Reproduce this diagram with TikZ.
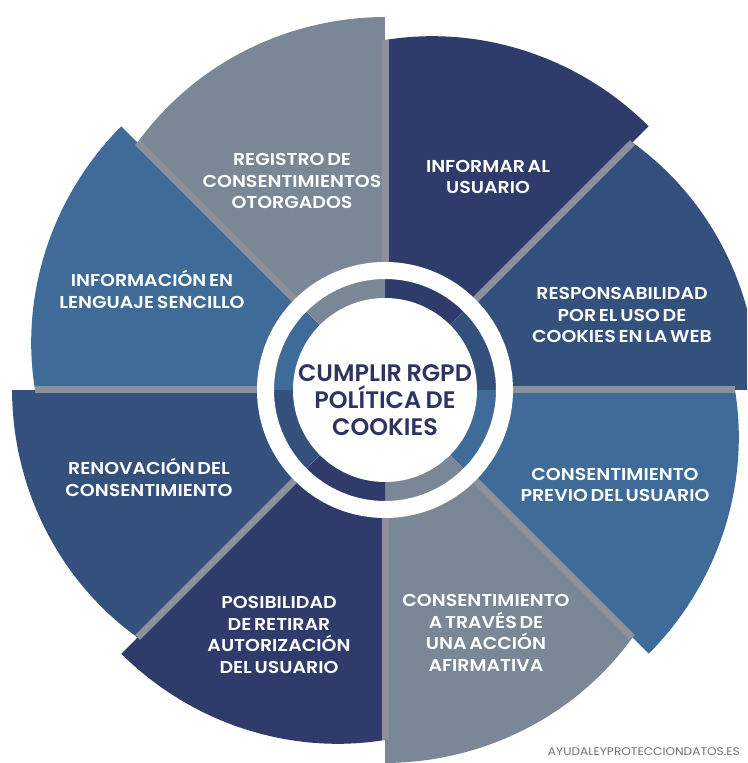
\documentclass[tikz,border=0pt]{standalone}
\usepackage{fontspec}
\setmainfont{Poppins}[BoldFont={Poppins SemiBold}, FakeStretch=1.1, WordSpace=0.6]
\newfontfamily\corefont{Poppins}[BoldFont={Poppins SemiBold}, WordSpace=0.8]
\definecolor{navyseg}{HTML}{2F3C6B}
\definecolor{steelseg}{HTML}{34517D}
\definecolor{blueseg}{HTML}{3F6B99}
\definecolor{grayseg}{HTML}{7A8797}
\definecolor{sepline}{HTML}{8E9199}
\definecolor{coretext}{HTML}{2D3461}
\definecolor{webtext}{HTML}{707070}
\begin{document}
\begin{tikzpicture}[x=0.02cm, y=0.02cm,
  seglabel/.style={text=white, align=center, font=\bfseries\fontsize{9.8}{12.4}\selectfont},
  corelabel/.style={text=coretext, align=center, font=\corefont\bfseries\fontsize{13.6}{15.4}\selectfont},
  sepray/.style={draw=sepline, line width=0.14cm},
  weblabel/.style={text=webtext, anchor=east, font=\fontsize{6.3}{7}\selectfont}]
% Frame of the picture, centre of the wheel at (0,0)
\useasboundingbox (-385,-373) rectangle (362,390);
\clip (-385,-373) rectangle (362,390);

% Eight blades, each grows from r=350 to r=373 going clockwise
\fill[navyseg] (0,0) -- plot[domain=0:1, samples=40] ({90-45*\x}:{350+45*\x-22*\x*\x}) -- cycle;
\fill[steelseg] (0,0) -- plot[domain=0:1, samples=40] ({45-45*\x}:{350+45*\x-22*\x*\x}) -- cycle;
\fill[blueseg] (0,0) -- plot[domain=0:1, samples=40] ({360-45*\x}:{350+45*\x-22*\x*\x}) -- cycle;
\fill[grayseg] (0,0) -- plot[domain=0:1, samples=40] ({315-45*\x}:{350+45*\x-22*\x*\x}) -- cycle;
\fill[navyseg] (0,0) -- plot[domain=0:1, samples=40] ({270-45*\x}:{350+45*\x-22*\x*\x}) -- cycle;
\fill[steelseg] (0,0) -- plot[domain=0:1, samples=40] ({225-45*\x}:{350+45*\x-22*\x*\x}) -- cycle;
\fill[blueseg] (0,0) -- plot[domain=0:1, samples=40] ({180-45*\x}:{350+45*\x-22*\x*\x}) -- cycle;
\fill[grayseg] (0,0) -- plot[domain=0:1, samples=40] ({135-45*\x}:{350+45*\x-22*\x*\x}) -- cycle;

% Separators between the blades
\draw[sepray] (90:128) -- (90:350);
\draw[sepray] (45:128) -- (45:350);
\draw[sepray] (0:128) -- (0:350);
\draw[sepray] (-45:128) -- (-45:350);
\draw[sepray] (-90:128) -- (-90:350);
\draw[sepray] (-135:128) -- (-135:350);
\draw[sepray] (180:128) -- (180:350);
\draw[sepray] (135:128) -- (135:350);

% White ring and centre disc
\fill[white, even odd rule] (0,0) circle (128) (0,0) circle (111);
\fill[white] (0,0) circle (92);

% Texts
\node[corelabel] (core) at (0,-10) {CUMPLIR RGPD\\POLÍTICA DE\\COOKIES};
\node[seglabel] (informar) at (103,213) {INFORMAR AL\\USUARIO};
\node[seglabel] (responsabilidad) at (237,75) {RESPONSABILIDAD\\POR EL USO DE\\COOKIES EN LA WEB};
\node[seglabel] (previo) at (230,-95) {CONSENTIMIENTO\\PREVIO DEL USUARIO};
\node[seglabel] (afirmativa) at (101,-243) {CONSENTIMIENTO\\A TRAVÉS DE\\UNA ACCIÓN\\AFIRMATIVA};
\node[seglabel] (retirar) at (-106,-245) {POSIBILIDAD\\DE RETIRAR\\AUTORIZACIÓN\\DEL USUARIO};
\node[seglabel] (renovacion) at (-236,-87) {RENOVACIÓN DEL\\CONSENTIMIENTO};
\node[seglabel] (sencillo) at (-233,101) {INFORMACIÓN EN\\LENGUAJE SENCILLO};
\node[seglabel] (registro) at (-93,209) {REGISTRO DE\\CONSENTIMIENTOS\\OTORGADOS};
\node[weblabel] (web) at (361,-362) {AYUDALEYPROTECCIONDATOS.ES};
\end{tikzpicture}
\end{document}
